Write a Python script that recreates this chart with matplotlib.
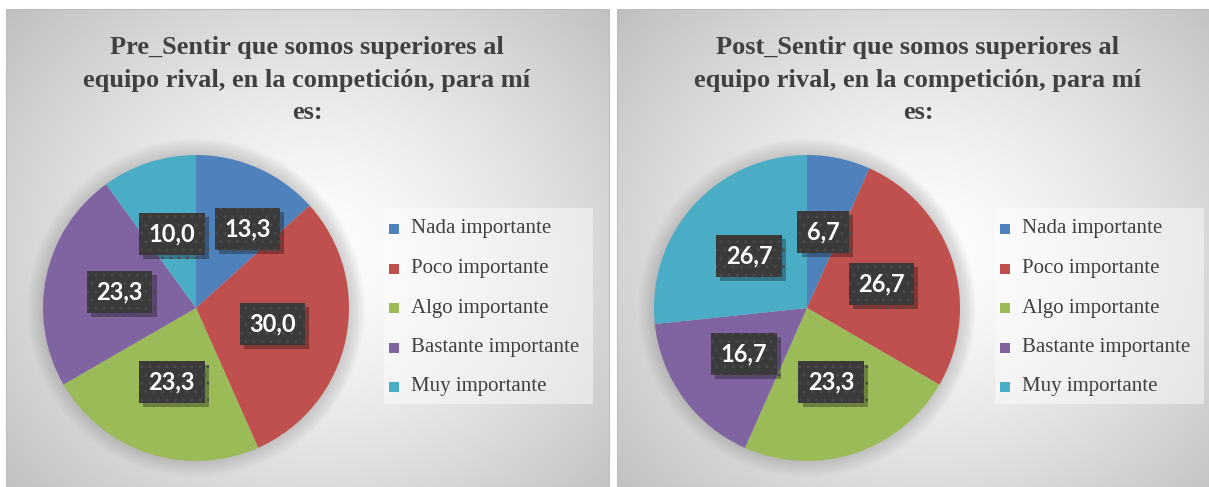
import numpy as np
import matplotlib
matplotlib.use('Agg')
import matplotlib.pyplot as plt
import matplotlib.patheffects as pe
from matplotlib.patches import Rectangle, Circle

# data
categories = ['Nada importante', 'Poco importante', 'Algo importante',
              'Bastante importante', 'Muy importante']
pre_values = [13.3, 30.0, 23.3, 23.3, 10.0]
post_values = [6.7, 26.7, 23.3, 16.7, 26.7]
titles = ['Pre_Sentir que somos superiores al\nequipo rival, en la competición, para mí\nes:',
          'Post_Sentir que somos superiores al\nequipo rival, en la competición, para mí\nes:']
colors = ['#4F81BD', '#C0504D', '#9BBB59', '#8064A2', '#4BACC6']

W, H = 1209, 487
fig = plt.figure(figsize=(W / 100, H / 100), dpi=100)
fig.patch.set_facecolor('white')
ax = fig.add_axes([0, 0, 1, 1])


def up(y):
    # image rows (top-down) -> axes y (bottom-up)
    return H - y


def panel_bg(x0, x1, y0, y1, cx, cy):
    xs = np.linspace(x0, x1, 300)
    ys = np.linspace(y0, y1, 240)
    X, Y = np.meshgrid(xs, ys)
    d = np.sqrt(((X - cx) / ((x1 - x0) * 0.62)) ** 2 + ((Y - cy) / ((y1 - y0) * 0.70)) ** 2)
    v = 1.0 - 0.22 * np.clip(d, 0, 1.2) ** 1.3
    img = np.dstack([v, v, v])
    ax.imshow(img, extent=(x0, x1, up(y1), up(y0)), origin='upper',
              interpolation='bilinear', zorder=0, aspect='auto')
    ax.add_patch(Rectangle((x0, up(y1)), x1 - x0, y1 - y0, fill=False,
                           ec='#bdbdbd', lw=0.8, zorder=1))


def draw_panel(values, title, dx, nudges):
    panel_bg(6 + dx, 609 + dx, 9, 487, 315 + dx, 255)

    cx, cy, r = 196 + dx, up(308), 153
    # soft glow behind the pie
    for i in range(16):
        ax.add_patch(Circle((cx, cy), r + 16 - i, fc='#7a7a7a', ec='none',
                            alpha=0.018, zorder=2))
    wedges, _ = ax.pie(values, colors=colors, startangle=90, counterclock=False,
                       center=(cx, cy), radius=r,
                       wedgeprops=dict(ec='none', lw=0))
    for w in wedges:
        w.set_zorder(3)

    for i, (w, v) in enumerate(zip(wedges, values)):
        ang = np.deg2rad((w.theta1 + w.theta2) / 2)
        lx = cx + 0.51 * r * np.cos(ang)
        ly = cy + 0.51 * r * np.sin(ang)
        ndx, ndy = nudges.get(i, (0, 0))
        lx += ndx * r
        ly += ndy * r
        txt = ('%.1f' % v).replace('.', ',')
        t = ax.text(lx, ly, txt, ha='center', va='center', fontsize=17,
                    fontfamily='Lato', fontweight='bold', color='white', zorder=5,
                    bbox=dict(boxstyle='square,pad=0.4', fc='#3a3a3a', ec='#4a4a4a',
                              lw=0, hatch='..'))
        t.get_bbox_patch().set_path_effects(
            [pe.SimplePatchShadow(offset=(3, -3), shadow_rgbFace='black', alpha=0.3),
             pe.Normal()])

    ax.text(307 + dx, up(80), title, ha='center', va='center', fontsize=19,
            fontfamily='Liberation Serif', fontweight='bold', color='#404040',
            linespacing=1.55, zorder=5)

    # legend
    ax.add_patch(Rectangle((384 + dx, up(404)), 209, 196, fc='white', ec='none',
                           alpha=0.45, zorder=2))
    for k, (name, c) in enumerate(zip(categories, colors)):
        yy = up(229 + k * 39.5)
        ax.add_patch(Rectangle((389 + dx, yy - 5), 10, 10, fc=c, ec='none', zorder=5))
        ax.text(411 + dx, yy, name, ha='left', va='center', fontsize=15,
                fontfamily='Liberation Serif', color='#404040', zorder=5)


draw_panel(pre_values, titles[0], 0, {0: (0.13, 0.05)})
draw_panel(post_values, titles[1], 611, {})

ax.set_xlim(0, W)
ax.set_ylim(0, H)
ax.set_aspect('auto')
ax.axis('off')

fig.savefig('out.png', dpi=100, facecolor='white')
